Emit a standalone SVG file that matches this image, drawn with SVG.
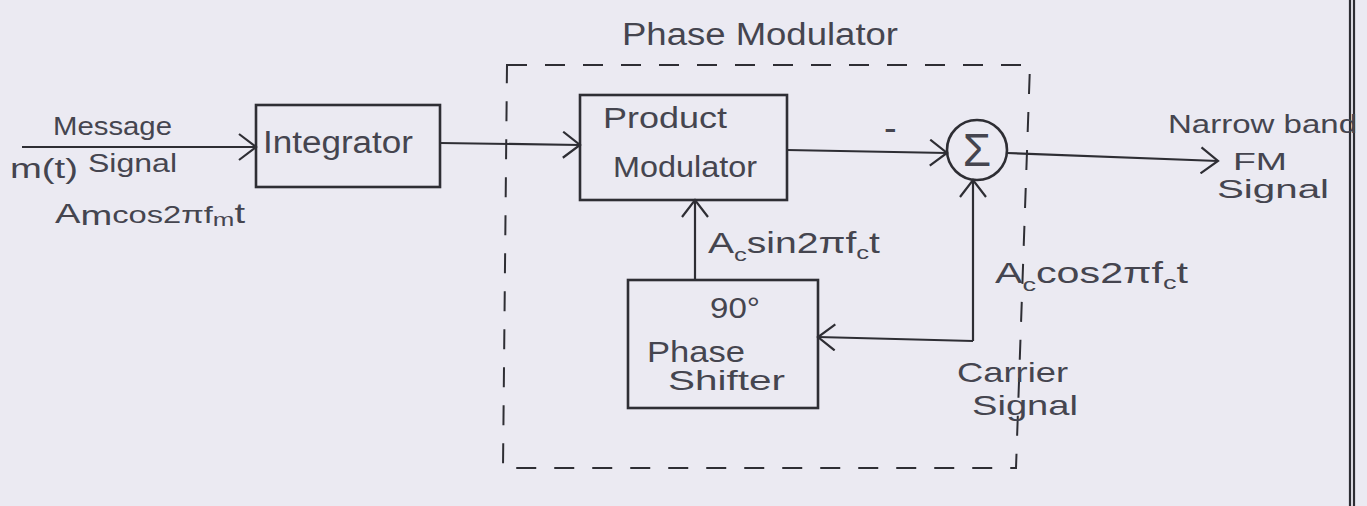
<svg xmlns="http://www.w3.org/2000/svg" width="1367" height="506" viewBox="0 0 1367 506">
<style>
.bg{fill:#ebeaf2}
.box{fill:none;stroke:#2e2e34;stroke-width:2.6}
.ln{fill:none;stroke:#2e2e34;stroke-width:2.2}
.dash{fill:none;stroke:#2e2e34;stroke-width:2;stroke-dasharray:20 18}
.t{font-family:"Liberation Sans",Arial,sans-serif;fill:#45454f;font-size:27px}
.s{font-size:19px}
</style>
<defs>
<marker id="arr" viewBox="0 0 20 28" refX="18" refY="14" markerWidth="20" markerHeight="28" markerUnits="userSpaceOnUse" orient="auto">
<path d="M1,1 L18,14 L1,27" fill="none" stroke="#2e2e34" stroke-width="2.2"/>
</marker>
</defs>
<rect class="bg" x="0" y="0" width="1367" height="506"/>
<g id="page-border">
<line class="ln" x1="1350" y1="0" x2="1350" y2="506" stroke-width="1.6"/>
<line class="ln" x1="1354" y1="0" x2="1354" y2="506" stroke-width="1.6"/>
</g>
<g id="phase-modulator">
<path class="dash" d="M507,65 L1030,65 L1016,468 L503,468 Z"/>
<text class="t" x="622" y="45" style="font-size:31px" textLength="276" lengthAdjust="spacingAndGlyphs">Phase Modulator</text>
</g>
<g id="integrator">
<rect class="box" x="256" y="105" width="184" height="82"/>
<text class="t" x="263" y="153" style="font-size:31px" textLength="150" lengthAdjust="spacingAndGlyphs">Integrator</text>
</g>
<g id="product-modulator">
<rect class="box" x="580" y="95" width="207" height="105"/>
<text class="t" x="603" y="128" style="font-size:29px" textLength="124" lengthAdjust="spacingAndGlyphs">Product</text>
<text class="t" x="613" y="177" style="font-size:29px" textLength="144" lengthAdjust="spacingAndGlyphs">Modulator</text>
</g>
<g id="summer">
<circle class="box" cx="977" cy="150" r="30"/>
<text class="t" x="977" y="166" style="font-size:46px" text-anchor="middle">Σ</text>
</g>
<g id="phase-shifter">
<rect class="box" x="628" y="280" width="190" height="128"/>
<text class="t" x="710" y="318" style="font-size:29px" textLength="50" lengthAdjust="spacingAndGlyphs">90°</text>
<text class="t" x="647" y="362" style="font-size:29px" textLength="98" lengthAdjust="spacingAndGlyphs">Phase</text>
<text class="t" x="668" y="390" style="font-size:28px" textLength="117" lengthAdjust="spacingAndGlyphs">Shifter</text>
</g>
<g id="connectors">
<line class="ln" x1="22" y1="147" x2="256" y2="147" marker-end="url(#arr)"/>
<line class="ln" x1="440" y1="143" x2="580" y2="145" marker-end="url(#arr)"/>
<line class="ln" x1="787" y1="150" x2="947" y2="153" marker-end="url(#arr)"/>
<line class="ln" x1="1007" y1="153" x2="1218" y2="161" marker-end="url(#arr)"/>
<line class="ln" x1="973" y1="341" x2="973" y2="180" marker-end="url(#arr)"/>
<line class="ln" x1="973" y1="341" x2="818" y2="337" marker-end="url(#arr)"/>
<line class="ln" x1="695" y1="280" x2="695" y2="200" marker-end="url(#arr)"/>
</g>
<g id="labels">
<text class="t" x="53" y="135" style="font-size:25px" textLength="119" lengthAdjust="spacingAndGlyphs">Message</text>
<text class="t" x="10" y="178" style="font-size:27px" textLength="68" lengthAdjust="spacingAndGlyphs">m(t)</text>
<text class="t" x="88" y="172" style="font-size:25px" textLength="89" lengthAdjust="spacingAndGlyphs">Signal</text>
<text class="t" x="55" y="223" style="font-size:28px" textLength="190" lengthAdjust="spacingAndGlyphs">A<tspan dy="2">m</tspan><tspan dy="-2" style="font-size:24px">cos2πf</tspan><tspan class="s" dy="3">m</tspan><tspan dy="-3">t</tspan></text>
<text class="t" x="884" y="141" style="font-size:38px">-</text>
<text class="t" x="1168" y="133" style="font-size:26px" textLength="189" lengthAdjust="spacingAndGlyphs">Narrow band</text>
<text class="t" x="1233" y="170" style="font-size:24px" textLength="54" lengthAdjust="spacingAndGlyphs">FM</text>
<text class="t" x="1217" y="198" style="font-size:25px" textLength="112" lengthAdjust="spacingAndGlyphs">Signal</text>
<text class="t" x="708" y="253" style="font-size:29px" textLength="172" lengthAdjust="spacingAndGlyphs">A<tspan class="s" dy="8">c</tspan><tspan dy="-8">sin2πf</tspan><tspan class="s" dy="6">c</tspan><tspan dy="-6">t</tspan></text>
<text class="t" x="995" y="283" style="font-size:29px" textLength="193" lengthAdjust="spacingAndGlyphs">A<tspan class="s" dy="8">c</tspan><tspan dy="-8">cos2πf</tspan><tspan class="s" dy="6">c</tspan><tspan dy="-6">t</tspan></text>
<text class="t" x="957" y="382" style="font-size:28px" textLength="111" lengthAdjust="spacingAndGlyphs">Carrier</text>
<text class="t" x="972" y="415" style="font-size:28px" textLength="106" lengthAdjust="spacingAndGlyphs">Signal</text>
</g>
</svg>
